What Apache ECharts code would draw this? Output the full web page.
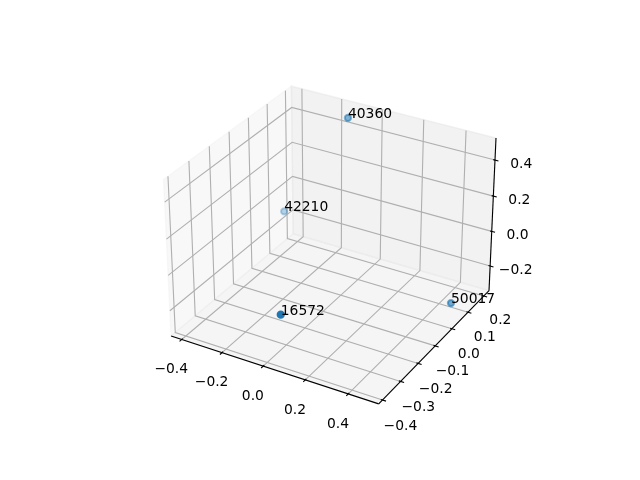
<!DOCTYPE html>
<html><head><meta charset="utf-8">
<script src="https://cdn.jsdelivr.net/npm/echarts@6/dist/echarts.min.js"></script>
<style>html,body{margin:0;padding:0;background:#fff}#c{width:640px;height:480px}</style>
</head><body><div id="c"></div>
<script>
// ---- data ----
const labels = ['40360', '42210', '16572', '50017'];
const xs = [-0.133, -0.390, 0.049, 0.476];
const ys = [0.192, 0.116, -0.379, 0.074];
const zs = [0.465, -0.088, -0.078, -0.290];
const xTicks = [-0.4, -0.2, 0.0, 0.2, 0.4];
const yTicks = [-0.4, -0.3, -0.2, -0.1, 0.0, 0.1, 0.2];
const zTicks = [-0.2, 0.0, 0.2, 0.4];

// ---- 3D view (matplotlib-like defaults) ----
const elev = 30, azim = -60, dist = 10;
function lim(a){const mn=Math.min(...a),mx=Math.max(...a),r=mx-mn;return [mn-0.05*r,mx+0.05*r];}
const XL=lim(xs), YL=lim(ys), ZL=lim(zs);
const dX=(XL[1]-XL[0])/12, dY=(YL[1]-YL[0])/12, dZ=(ZL[1]-ZL[0])/12;
const XP=[XL[0]-dX/4,XL[1]+dX/4], YP=[YL[0]-dY/4,YL[1]+dY/4], ZP=[ZL[0]-dZ/4,ZL[1]+dZ/4];
const boxA=[4,4,3]; const nb=Math.hypot(...boxA); const BA=boxA.map(v=>v*1.8294640721620434/nb);
const er=elev*Math.PI/180, ar=azim*Math.PI/180;
const ps=[Math.cos(er)*Math.cos(ar),Math.cos(er)*Math.sin(ar),Math.sin(er)];
const eye=BA.map((v,i)=>v/2+dist*ps[i]);
function cross(a,b){return [a[1]*b[2]-a[2]*b[1],a[2]*b[0]-a[0]*b[2],a[0]*b[1]-a[1]*b[0]];}
function dot(a,b){return a[0]*b[0]+a[1]*b[1]+a[2]*b[2];}
function unit(a){const n=Math.hypot(...a);return a.map(v=>v/n);}
const W=unit(ps); const U=unit(cross([0,0,1],W)); const V=cross(W,U);
function proj(x,y,z){
  const p=[(x-XL[0])/(XL[1]-XL[0])*BA[0],(y-YL[0])/(YL[1]-YL[0])*BA[1],(z-ZL[0])/(ZL[1]-ZL[0])*BA[2]];
  const d=p.map((v,i)=>v-eye[i]);
  const vx=dot(U,d), vy=dot(V,d), vz=dot(W,d);
  return [vx/(-vz), vy/(-vz), -10/(-vz)];
}
const P2=(pt)=>{const q=proj(pt[0],pt[1],pt[2]);return [q[0],q[1]];};

// ---- decorations built from ticks ----
const panes=[
  {pts:[[XP[0],YP[0],ZP[0]],[XP[0],YP[1],ZP[0]],[XP[0],YP[1],ZP[1]],[XP[0],YP[0],ZP[1]]],c:'rgba(242,242,242,0.5)'},
  {pts:[[XP[0],YP[1],ZP[0]],[XP[1],YP[1],ZP[0]],[XP[1],YP[1],ZP[1]],[XP[0],YP[1],ZP[1]]],c:'rgba(230,230,230,0.5)'},
  {pts:[[XP[0],YP[0],ZP[0]],[XP[1],YP[0],ZP[0]],[XP[1],YP[1],ZP[0]],[XP[0],YP[1],ZP[0]]],c:'rgba(236,236,236,0.5)'}
].map(p=>({pts:p.pts.map(P2),c:p.c}));
const grids=[];
xTicks.forEach(t=>grids.push([[t,YP[0],ZP[0]],[t,YP[1],ZP[0]],[t,YP[1],ZP[1]]]));
yTicks.forEach(t=>grids.push([[XP[0],t,ZP[1]],[XP[0],t,ZP[0]],[XP[1],t,ZP[0]]]));
zTicks.forEach(t=>grids.push([[XP[1],YP[1],t],[XP[0],YP[1],t],[XP[0],YP[0],t]]));
const axLines=[
  [[XP[0],YP[0],ZP[0]],[XP[1],YP[0],ZP[0]]],
  [[XP[1],YP[0],ZP[0]],[XP[1],YP[1],ZP[0]]],
  [[XP[1],YP[1],ZP[0]],[XP[1],YP[1],ZP[1]]]
];
xTicks.forEach(t=>axLines.push([[t,YP[0]-0.2*dY,ZP[0]],[t,YP[0]+0.1*dY,ZP[0]]]));
yTicks.forEach(t=>axLines.push([[XP[1]+0.2*dX,t,ZP[0]],[XP[1]-0.1*dX,t,ZP[0]]]));
zTicks.forEach(t=>axLines.push([[XP[1]+0.2*dX,YP[1],t],[XP[1]-0.1*dX,YP[1],t]]));
const LD=(3.5+8)*48/(72*2*3.696);
const fmt=v=>(v<0?'\u2212':'')+Math.abs(v).toFixed(1);
const tickLabels=[];
xTicks.forEach(t=>tickLabels.push({p:P2([t,YP[0]-LD*dY,ZP[0]-LD*dZ]),s:fmt(t)}));
yTicks.forEach(t=>tickLabels.push({p:P2([XP[1]+LD*dX,t,ZP[0]-LD*dZ]),s:fmt(t)}));
zTicks.forEach(t=>tickLabels.push({p:P2([XP[1]+LD*dX,YP[1]+LD*dY,t]),s:fmt(t)}));
const gridP=grids.map(g=>g.map(P2));
const axP=axLines.map(g=>g.map(P2));

// ---- points ----
const pp=xs.map((x,i)=>proj(x,ys[i],zs[i]));
const tzs=pp.map(p=>p[2]); const tmin=Math.min(...tzs), tmax=Math.max(...tzs);
const alpha=tzs.map(t=>1-((t-tmin)/(tmax-tmin))*0.7);
const order=xs.map((_,i)=>i).sort((a,b)=>tzs[b]-tzs[a]);

const FONT='13.89px "DejaVu Sans"';
const TOP_OFF=7.6, BASE_OFF=-3.6;
function textEl(x,y,s,align){return {type:'text',x:x,y:y,style:{text:s,font:FONT,fill:'#000',align:align,verticalAlign:'middle',textAlign:align,textVerticalAlign:'middle'}};}
const dummy=(arr)=>arr.map(()=>[0,0]);

const option={
  animation:false,
  grid:{left:143.2,top:57.6,width:369.6,height:369.6,containLabel:false},
  xAxis:{type:'value',min:-0.095,max:0.09,show:false},
  yAxis:{type:'value',min:-0.095,max:0.09,show:false},
  series:[
    {type:'custom',z:1,clip:false,silent:true,data:dummy(panes),
     renderItem:(params,api)=>{const p=panes[params.dataIndex];return {type:'polygon',shape:{points:p.pts.map(q=>api.coord(q))},style:{fill:p.c,stroke:p.c,lineWidth:1.39}};}},
    {type:'custom',z:2,clip:false,silent:true,data:dummy(gridP),
     renderItem:(params,api)=>({type:'polyline',shape:{points:gridP[params.dataIndex].map(q=>api.coord(q))},style:{fill:null,stroke:'#b0b0b0',lineWidth:1.11}})},
    {type:'custom',z:3,clip:false,silent:true,data:dummy(axP),
     renderItem:(params,api)=>({type:'polyline',shape:{points:axP[params.dataIndex].map(q=>api.coord(q))},style:{fill:null,stroke:'#000',lineWidth:1.11}})},
    {type:'custom',z:4,clip:false,silent:true,data:dummy(tickLabels),
     renderItem:(params,api)=>{const t=tickLabels[params.dataIndex];const c=api.coord(t.p);return textEl(c[0],c[1]+TOP_OFF,t.s,'center');}},
    {type:'scatter',z:5,silent:true,symbol:'circle',symbolSize:6.21,clip:false,
     data:order.map(i=>({value:[pp[i][0],pp[i][1]],itemStyle:{color:'rgba(31,119,180,'+alpha[i]+')',borderColor:'rgba(31,119,180,'+alpha[i]+')',borderWidth:2.08,opacity:1}}))},
    {type:'custom',z:6,clip:false,silent:true,data:dummy(labels),
     renderItem:(params,api)=>{const i=params.dataIndex;const c=api.coord([pp[i][0],pp[i][1]]);return textEl(c[0],c[1]+BASE_OFF,labels[i],'left');}}
  ]
};
const chart=echarts.init(document.getElementById('c'),null,{renderer:'canvas',width:640,height:480});
chart.setOption(option);
</script></body></html>
